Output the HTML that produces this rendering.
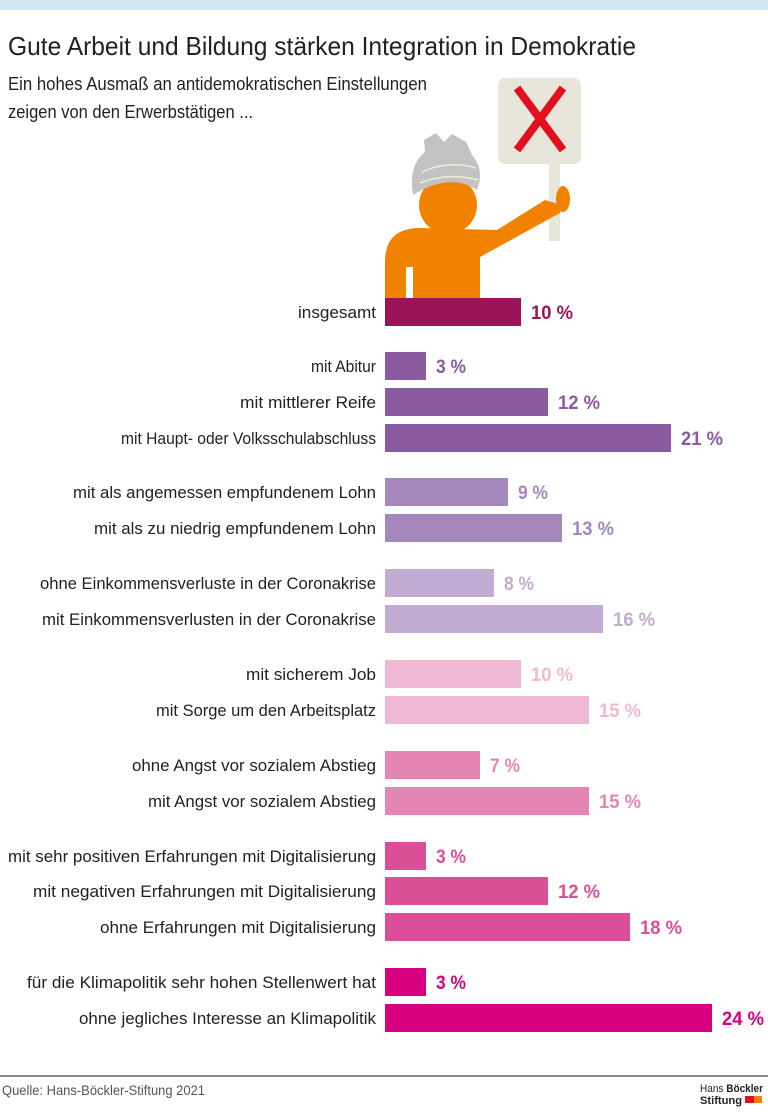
<!DOCTYPE html>
<html><head><meta charset="utf-8"><style>
html,body{margin:0;padding:0;background:#fff}
svg{display:block}
text{font-family:"Liberation Sans Narrow","Liberation Sans",sans-serif}
</style></head><body>
<svg width="768" height="1113" viewBox="0 0 768 1113" xmlns="http://www.w3.org/2000/svg">
<rect x="0" y="0" width="768" height="10" fill="#cfe6f0"/>
<text x="8" y="55" font-size="26" fill="#222" textLength="628" lengthAdjust="spacingAndGlyphs">Gute Arbeit und Bildung stärken Integration in Demokratie</text>
<text x="8" y="90" font-size="18" fill="#222" textLength="419" lengthAdjust="spacingAndGlyphs">Ein hohes Ausmaß an antidemokratischen Einstellungen</text>
<text x="8" y="118" font-size="18" fill="#222" textLength="245" lengthAdjust="spacingAndGlyphs">zeigen von den Erwerbstätigen ...</text>
<!-- sign -->
<rect x="498" y="78" width="83" height="86" rx="7" fill="#e8e5da"/>
<rect x="549" y="163" width="11" height="78" fill="#e8e5da"/>
<path d="M517 88 L563 150 M563 88 L517 150" stroke="#e2101f" stroke-width="8"/>
<!-- person -->
<path d="M385 298 L385 262 Q385 228 420 228 L497 230 L545 200 L562 205 L560 213 L480 257 L480 298 Z" fill="#f08200"/>
<ellipse cx="563" cy="199" rx="7" ry="13" fill="#f08200"/>
<rect x="406" y="267" width="7" height="31" fill="#fff"/>
<circle cx="448" cy="205" r="29" fill="#f08200"/>
<path d="M413 195 Q408 165 425 152 L424 140 L436 133 L444 142 L452 134 L466 142 L472 155 Q485 170 477 190 Q450 172 413 195 Z" fill="#c3c3c3"/>
<path d="M422 172 Q448 160 476 168 M420 183 Q448 172 478 180" stroke="#eeeedd" stroke-width="1.5" fill="none"/>
<g font-size="17" fill="#222" text-anchor="end">
<text x="376" y="318" textLength="78" lengthAdjust="spacingAndGlyphs">insgesamt</text>
<text x="376" y="372" textLength="65" lengthAdjust="spacingAndGlyphs">mit Abitur</text>
<text x="376" y="408" textLength="136" lengthAdjust="spacingAndGlyphs">mit mittlerer Reife</text>
<text x="376" y="444" textLength="255" lengthAdjust="spacingAndGlyphs">mit Haupt- oder Volksschulabschluss</text>
<text x="376" y="498" textLength="303" lengthAdjust="spacingAndGlyphs">mit als angemessen empfundenem Lohn</text>
<text x="376" y="534" textLength="282" lengthAdjust="spacingAndGlyphs">mit als zu niedrig empfundenem Lohn</text>
<text x="376" y="589" textLength="336" lengthAdjust="spacingAndGlyphs">ohne Einkommensverluste in der Coronakrise</text>
<text x="376" y="625" textLength="334" lengthAdjust="spacingAndGlyphs">mit Einkommensverlusten in der Coronakrise</text>
<text x="376" y="680" textLength="130" lengthAdjust="spacingAndGlyphs">mit sicherem Job</text>
<text x="376" y="716" textLength="220" lengthAdjust="spacingAndGlyphs">mit Sorge um den Arbeitsplatz</text>
<text x="376" y="771" textLength="244" lengthAdjust="spacingAndGlyphs">ohne Angst vor sozialem Abstieg</text>
<text x="376" y="807" textLength="228" lengthAdjust="spacingAndGlyphs">mit Angst vor sozialem Abstieg</text>
<text x="376" y="862" textLength="368" lengthAdjust="spacingAndGlyphs">mit sehr positiven Erfahrungen mit Digitalisierung</text>
<text x="376" y="897" textLength="343" lengthAdjust="spacingAndGlyphs">mit negativen Erfahrungen mit Digitalisierung</text>
<text x="376" y="933" textLength="276" lengthAdjust="spacingAndGlyphs">ohne Erfahrungen mit Digitalisierung</text>
<text x="376" y="988" textLength="349" lengthAdjust="spacingAndGlyphs">für die Klimapolitik sehr hohen Stellenwert hat</text>
<text x="376" y="1024" textLength="297" lengthAdjust="spacingAndGlyphs">ohne jegliches Interesse an Klimapolitik</text>
</g>
<g>
<rect x="385" y="298" width="136" height="28" fill="#9b1458"/>
<rect x="385" y="352" width="41" height="28" fill="#8a5ba0"/>
<rect x="385" y="388" width="163" height="28" fill="#8a5ba0"/>
<rect x="385" y="424" width="286" height="28" fill="#8a5ba0"/>
<rect x="385" y="478" width="123" height="28" fill="#a487bb"/>
<rect x="385" y="514" width="177" height="28" fill="#a487bb"/>
<rect x="385" y="569" width="109" height="28" fill="#c3acd3"/>
<rect x="385" y="605" width="218" height="28" fill="#c3acd3"/>
<rect x="385" y="660" width="136" height="28" fill="#efb8d3"/>
<rect x="385" y="696" width="204" height="28" fill="#efb8d3"/>
<rect x="385" y="751" width="95" height="28" fill="#e585b3"/>
<rect x="385" y="787" width="204" height="28" fill="#e585b3"/>
<rect x="385" y="842" width="41" height="28" fill="#db4f98"/>
<rect x="385" y="877" width="163" height="28" fill="#db4f98"/>
<rect x="385" y="913" width="245" height="28" fill="#db4f98"/>
<rect x="385" y="968" width="41" height="28" fill="#d7007f"/>
<rect x="385" y="1004" width="327" height="28" fill="#d7007f"/>
</g>
<g font-size="19" font-weight="bold">
<text x="531" y="319" fill="#9b1458" textLength="42" lengthAdjust="spacingAndGlyphs">10 %</text>
<text x="436" y="373" fill="#8a5ba0" textLength="30" lengthAdjust="spacingAndGlyphs">3 %</text>
<text x="558" y="409" fill="#8a5ba0" textLength="42" lengthAdjust="spacingAndGlyphs">12 %</text>
<text x="681" y="445" fill="#8a5ba0" textLength="42" lengthAdjust="spacingAndGlyphs">21 %</text>
<text x="518" y="499" fill="#a487bb" textLength="30" lengthAdjust="spacingAndGlyphs">9 %</text>
<text x="572" y="535" fill="#a487bb" textLength="42" lengthAdjust="spacingAndGlyphs">13 %</text>
<text x="504" y="590" fill="#c3acd3" textLength="30" lengthAdjust="spacingAndGlyphs">8 %</text>
<text x="613" y="626" fill="#c3acd3" textLength="42" lengthAdjust="spacingAndGlyphs">16 %</text>
<text x="531" y="681" fill="#efb8d3" textLength="42" lengthAdjust="spacingAndGlyphs">10 %</text>
<text x="599" y="717" fill="#efb8d3" textLength="42" lengthAdjust="spacingAndGlyphs">15 %</text>
<text x="490" y="772" fill="#e585b3" textLength="30" lengthAdjust="spacingAndGlyphs">7 %</text>
<text x="599" y="808" fill="#e585b3" textLength="42" lengthAdjust="spacingAndGlyphs">15 %</text>
<text x="436" y="863" fill="#db4f98" textLength="30" lengthAdjust="spacingAndGlyphs">3 %</text>
<text x="558" y="898" fill="#db4f98" textLength="42" lengthAdjust="spacingAndGlyphs">12 %</text>
<text x="640" y="934" fill="#db4f98" textLength="42" lengthAdjust="spacingAndGlyphs">18 %</text>
<text x="436" y="989" fill="#d7007f" textLength="30" lengthAdjust="spacingAndGlyphs">3 %</text>
<text x="722" y="1025" fill="#d7007f" textLength="42" lengthAdjust="spacingAndGlyphs">24 %</text>
</g>
<rect x="0" y="1075" width="768" height="2" fill="#888"/>
<text x="2" y="1095" font-size="14" fill="#555" textLength="203" lengthAdjust="spacingAndGlyphs">Quelle: Hans-Böckler-Stiftung 2021</text>
<text x="700" y="1092" font-size="11" fill="#222" textLength="63" lengthAdjust="spacingAndGlyphs">Hans <tspan font-weight="bold">Böckler</tspan></text>
<text x="700" y="1104" font-size="11" font-weight="bold" fill="#222" textLength="42" lengthAdjust="spacingAndGlyphs">Stiftung</text>
<rect x="745" y="1096" width="9" height="7" fill="#e2101f"/>
<rect x="754" y="1096" width="8" height="7" fill="#f08200"/>
</svg>
</body></html>
